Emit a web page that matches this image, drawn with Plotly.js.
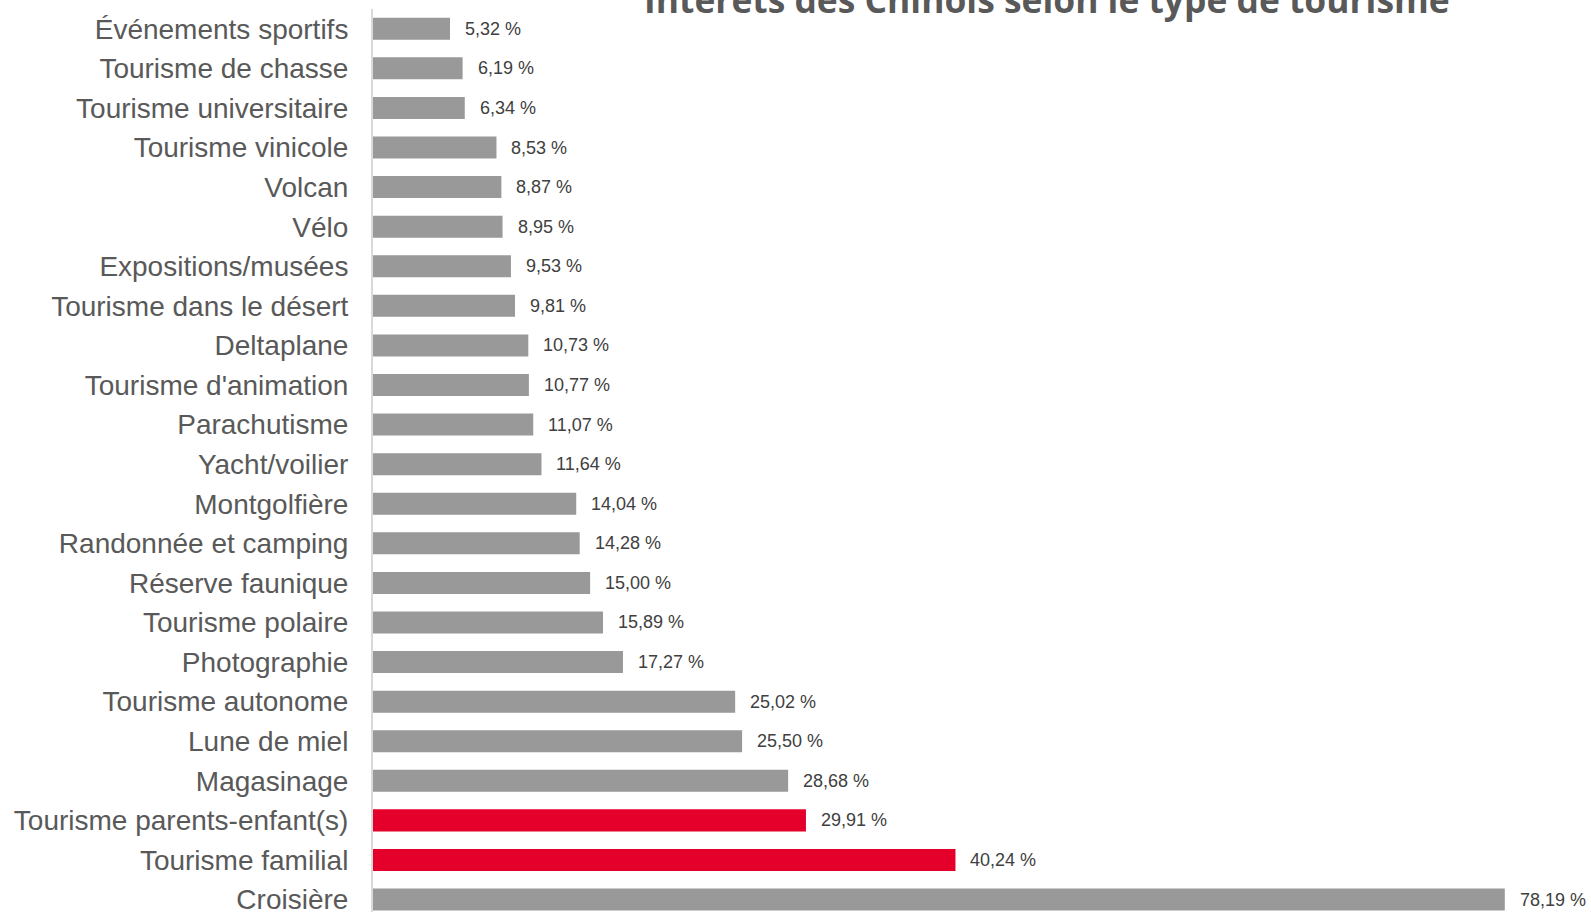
<!DOCTYPE html>
<html>
<head>
<meta charset="utf-8">
<script src="https://cdn.plot.ly/plotly-3.0.1.min.js"></script>
<style>
html,body{margin:0;padding:0;background:#fff;}
#chart{width:1591px;height:912px;}
</style>
</head>
<body>
<div id="chart"></div>
<script>
// Data (top to bottom as shown in the chart)
const categories = [
  "Événements sportifs",
  "Tourisme de chasse",
  "Tourisme universitaire",
  "Tourisme vinicole",
  "Volcan",
  "Vélo",
  "Expositions/musées",
  "Tourisme dans le désert",
  "Deltaplane",
  "Tourisme d'animation",
  "Parachutisme",
  "Yacht/voilier",
  "Montgolfière",
  "Randonnée et camping",
  "Réserve faunique",
  "Tourisme polaire",
  "Photographie",
  "Tourisme autonome",
  "Lune de miel",
  "Magasinage",
  "Tourisme parents-enfant(s)",
  "Tourisme familial",
  "Croisière"
];
const values = [
  5.32, 6.19, 6.34, 8.53, 8.87, 8.95, 9.53, 9.81, 10.73, 10.77, 11.07, 11.64,
  14.04, 14.28, 15.00, 15.89, 17.27, 25.02, 25.50, 28.68, 29.91, 40.24, 78.19
];
const highlighted = ["Tourisme parents-enfant(s)", "Tourisme familial"];
const chartTitle = "Intérêts des Chinois selon le type de tourisme";

const GREY = "#999999";
const RED = "#E4002B";

const colors = categories.map(c => highlighted.includes(c) ? RED : GREY);
const fmt = v => v.toFixed(2).replace(".", ",") + " %";

const trace = {
  type: "bar",
  orientation: "h",
  x: values,
  y: categories,
  marker: { color: colors, line: { width: 0 } },
  hoverinfo: "skip",
  cliponaxis: false
};

const annotations = categories.map((c, i) => ({
  x: values[i],
  y: c,
  xref: "x",
  yref: "y",
  text: fmt(values[i]),
  showarrow: false,
  xanchor: "left",
  yanchor: "middle",
  xshift: 13,
  font: { family: "Liberation Sans, Arial, sans-serif", size: 18, color: "#404040" }
}));

const layout = {
  width: 1591,
  height: 912,
  paper_bgcolor: "#ffffff",
  plot_bgcolor: "#ffffff",
  margin: { l: 373, r: 60, t: 9, b: 0, pad: 0 },
  showlegend: false,
  bargap: 0.444,
  title: {
    text: "<b>" + chartTitle + "</b>",
    font: { family: "Open Sans, sans-serif", size: 35.4, color: "#595959" },
    xref: "container",
    yref: "container",
    x: 0.658,
    xanchor: "center",
    y: 1 - 13.3 / 912,
    yanchor: "bottom"
  },
  xaxis: {
    range: [0, 80],
    visible: false,
    showgrid: false,
    zeroline: false,
    fixedrange: true
  },
  yaxis: {
    type: "category",
    categoryorder: "array",
    categoryarray: categories.slice().reverse(),
    range: [-0.315, 22.5],
    showline: true,
    linecolor: "#d9d9d9",
    linewidth: 2,
    showgrid: false,
    zeroline: false,
    ticks: "",
    ticklabelstandoff: 17,
    tickfont: { family: "Liberation Sans, Arial, sans-serif", size: 28, color: "#595959" },
    fixedrange: true
  },
  annotations: annotations
};

Plotly.newPlot("chart", [trace], layout, { displayModeBar: false, staticPlot: true });
</script>
</body>
</html>
